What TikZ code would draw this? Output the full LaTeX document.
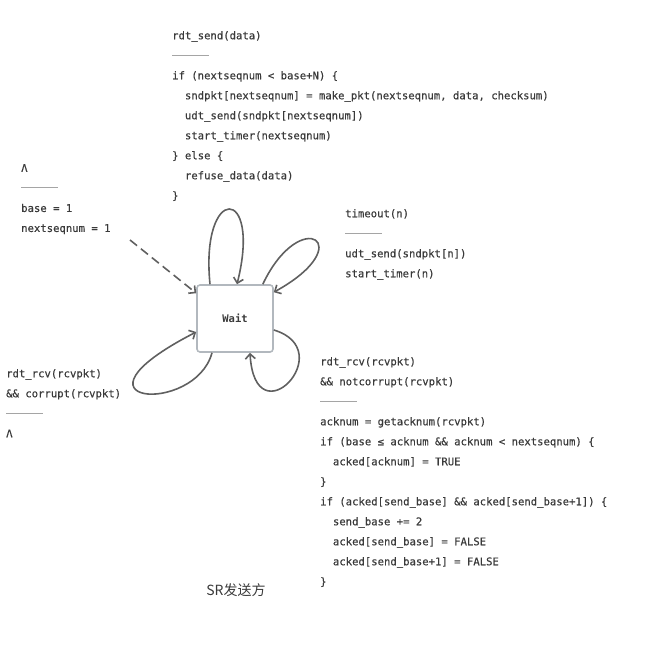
\documentclass[tikz,border=0pt]{standalone}
\usepackage{fontspec}
\setmonofont{DejaVu Sans Mono}
\newfontfamily\codefont{DejaVu Sans Mono}[FakeBold=0.4]
\newfontfamily\cjkfont{Noto Sans CJK SC}
\usepackage{tikz}
\usetikzlibrary{arrows.meta,positioning}
\definecolor{TextColor}{RGB}{58,58,58}
\definecolor{EdgeColor}{RGB}{96,96,96}
\definecolor{BoxColor}{RGB}{178,184,190}
\definecolor{RuleColor}{RGB}{165,165,165}
\newcommand{\sepline}{\textcolor{RuleColor}{\rule[4pt]{37pt}{0.6pt}}}
\newcommand{\codeind}{\phantom{xx}}
\tikzset{
  fsmstate/.style={draw=BoxColor, line width=1.6pt, rounded corners=3pt, fill=white, minimum width=76pt, minimum height=67pt, font=\ttfamily\bfseries\fontsize{10.5}{12}\selectfont, text=TextColor},
  fsmlabel/.style={anchor=north west, inner sep=0pt, align=left, text=TextColor, font=\codefont\fontsize{10.6}{20}\selectfont},
  fsmedge/.style={->, draw=EdgeColor, line width=1.6pt},
}

\begin{document}
\begin{tikzpicture}[>={Straight Barb[length=5pt,width=10pt]}, x=1pt, y=-1pt]
      \useasboundingbox (0,0) rectangle (670,654);

      \node[fsmstate] (wait) at (235,318.5) {Wait};

      \node[fsmlabel] (send) at (172,31) {rdt\_send(data)\\
        \sepline\\
        if (nextseqnum < base+N) \{\\
        \codeind sndpkt[nextseqnum] = make\_pkt(nextseqnum, data, checksum)\\
        \codeind udt\_send(sndpkt[nextseqnum])\\
        \codeind start\_timer(nextseqnum)\\
        \} else \{\\
        \codeind refuse\_data(data)\\
        \}};
      \node[fsmlabel] (init) at (21,164) {Λ\\
        \sepline\\
        base = 1\\
        nextseqnum = 1};
      \node[fsmlabel] (tout) at (345,209) {timeout(n)\\
        \sepline\\
        udt\_send(sndpkt[n])\\
        start\_timer(n)};
      \node[fsmlabel] (bad) at (6,369) {rdt\_rcv(rcvpkt)\\
        \&\& corrupt(rcvpkt)\\
        \sepline\\
        Λ};
      \node[fsmlabel] (good) at (320,357) {rdt\_rcv(rcvpkt)\\
        \&\& notcorrupt(rcvpkt)\\
        \sepline\\
        acknum = getacknum(rcvpkt)\\
        if (base ≤ acknum \&\& acknum < nextseqnum) \{\\
        \codeind acked[acknum] = TRUE\\
        \}\\
        if (acked[send\_base] \&\& acked[send\_base+1]) \{\\
        \codeind send\_base += 2\\
        \codeind acked[send\_base] = FALSE\\
        \codeind acked[send\_base+1] = FALSE\\
        \}};

      \node[font=\cjkfont\fontsize{14}{16}\selectfont, text=TextColor] (title) at (236,590) {SR发送方};

      % initial transition
      \coordinate (start) at (130,240);
      \draw[fsmedge, dash pattern=on 9pt off 5pt] (start) -- ([yshift=-9pt]wait.north west);

      % self loops
      \draw[fsmedge] ([xshift=-25pt]wait.north) .. controls +(-10,-100) and +(25,-100) .. ([xshift=2pt]wait.north);
      \draw[fsmedge] ([xshift=-11pt]wait.north east) .. controls +(38,-80) and +(87,-48) .. ([yshift=-8pt]wait.north east);
      \draw[fsmedge] ([yshift=-11.5pt]wait.east) .. controls +(67,20) and +(5,88) .. ([xshift=15pt]wait.south);
      \draw[fsmedge] ([xshift=-23pt]wait.south) .. controls +(-17,63) and +(-142,73) .. ([yshift=-13.5pt]wait.west);
\end{tikzpicture}
\end{document}
